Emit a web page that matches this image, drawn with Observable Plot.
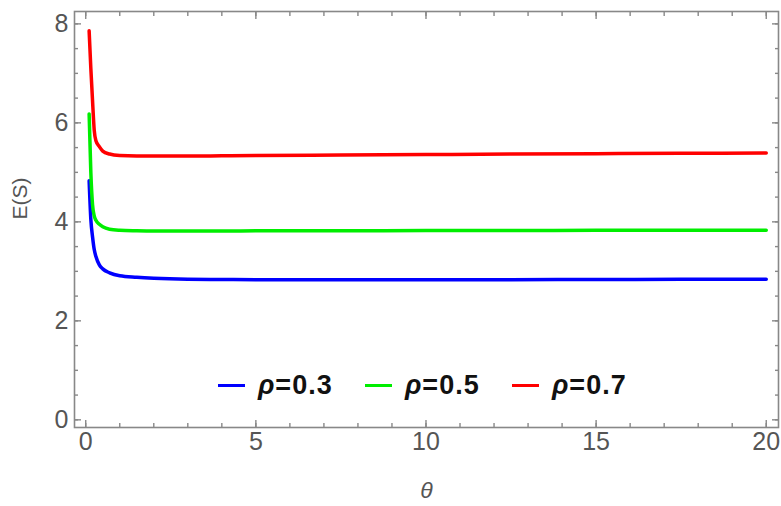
<!DOCTYPE html>
<html>
<head>
<meta charset="utf-8">
<script src="https://cdn.jsdelivr.net/npm/d3@7"></script>
<script src="https://cdn.jsdelivr.net/npm/@observablehq/plot@0.6"></script>
<style>
  html, body { margin: 0; padding: 0; background: #fff; }
  #wrap { position: relative; width: 781px; height: 506px; }
  #legend { position: absolute; left: 218px; top: 370px; display: flex; align-items: center;
            font-family: "Liberation Sans", Arial, sans-serif; font-weight: bold; font-size: 27px;
            letter-spacing: 1px; color: #111; }
  #legend .item { display: flex; align-items: center; width: 147px; }
  #legend .sw { width: 27px; height: 3px; margin-right: 13px; }
  #legend i { font-style: italic; }
</style>
</head>
<body>
<div id="wrap"><div id="legend"></div></div>
<script>
// θ sample points
const theta = [0.1, 0.15, 0.2, 0.25, 0.3, 0.4, 0.5, 0.7, 1.0, 1.5, 2, 3, 4, 5, 7.5, 10, 12.5, 15, 17.5, 20];
// E(S) for each ρ
const es03 = [4.83, 4.05, 3.70, 3.44, 3.30, 3.13, 3.05, 2.97, 2.91, 2.88, 2.86, 2.84, 2.835, 2.83, 2.83, 2.83, 2.832, 2.835, 2.838, 2.84];
const es05 = [6.18, 5.00, 4.35, 4.12, 4.03, 3.95, 3.90, 3.85, 3.83, 3.82, 3.815, 3.815, 3.815, 3.818, 3.82, 3.823, 3.825, 3.828, 3.83, 3.832];
const es07 = [7.86, 7.10, 6.45, 5.85, 5.64, 5.52, 5.43, 5.37, 5.34, 5.33, 5.33, 5.33, 5.335, 5.34, 5.35, 5.36, 5.37, 5.378, 5.385, 5.39];
const seriesNames = ["ρ=0.3", "ρ=0.5", "ρ=0.7"];
const seriesColors = ["#0000ff", "#00ee00", "#ff0000"];
const xMajor = [0, 5, 10, 15, 20];
const xMinor = d3.range(0, 21, 1);
const yMajor = [0, 2, 4, 6, 8];
const yMinor = d3.range(0, 8.01, 0.5);

const rows = [es03, es05, es07].flatMap((vals, i) =>
  theta.map((t, j) => ({theta: t, es: vals[j], series: seriesNames[i]})));

const tickColor = "#888";
const labelColor = "#555";
const font = "'Liberation Sans', Arial, sans-serif";

const chart = Plot.plot({
  width: 781,
  height: 506,
  marginLeft: 74,
  marginRight: 3,
  marginTop: 11,
  marginBottom: 79,
  style: {fontFamily: font, background: "white", overflow: "visible"},
  x: {domain: [-0.33, 20.36]},
  y: {domain: [-0.155, 8.25]},
  color: {domain: seriesNames, range: seriesColors},
  marks: [
    Plot.frame({stroke: tickColor, strokeWidth: 1.6}),
    Plot.axisX(xMajor, {anchor: "bottom", tickSize: -7, text: null, label: null, stroke: tickColor, strokeWidth: 1.4}),
    Plot.axisX(xMinor, {anchor: "bottom", tickSize: -4, text: null, label: null, stroke: tickColor, strokeWidth: 1.4}),
    Plot.axisX(xMajor, {anchor: "top", tickSize: -7, text: null, label: null, stroke: tickColor, strokeWidth: 1.4}),
    Plot.axisX(xMinor, {anchor: "top", tickSize: -4, text: null, label: null, stroke: tickColor, strokeWidth: 1.4}),
    Plot.axisY(yMajor, {anchor: "left", tickSize: -7, text: null, label: null, stroke: tickColor, strokeWidth: 1.4}),
    Plot.axisY(yMinor, {anchor: "left", tickSize: -4, text: null, label: null, stroke: tickColor, strokeWidth: 1.4}),
    Plot.axisY(yMajor, {anchor: "right", tickSize: -7, text: null, label: null, stroke: tickColor, strokeWidth: 1.4}),
    Plot.axisY(yMinor, {anchor: "right", tickSize: -4, text: null, label: null, stroke: tickColor, strokeWidth: 1.4}),
    Plot.axisX(xMajor, {anchor: "bottom", tickSize: 0, tickPadding: 5, label: null, fontSize: 25, fill: labelColor, tickFormat: d => String(d)}),
    Plot.axisY(yMajor, {anchor: "left", tickSize: 0, tickPadding: 6, label: null, fontSize: 25, fill: labelColor, tickFormat: d => String(d)}),
    Plot.text(["E(S)"], {text: d => d, frameAnchor: "left", dx: -54, rotate: -90, fontSize: 21, fill: labelColor}),
    Plot.text(["θ"], {text: d => d, frameAnchor: "bottom", dy: 70, fontSize: 23, fontStyle: "italic", fill: labelColor}),
    Plot.line(rows, {x: "theta", y: "es", z: "series", stroke: "series", strokeWidth: 3.5, curve: "monotone-x"})
  ]
});
document.getElementById("wrap").prepend(chart);

const legend = document.getElementById("legend");
seriesNames.forEach((name, i) => {
  const item = document.createElement("div");
  item.className = "item";
  const sw = document.createElement("div");
  sw.className = "sw";
  sw.style.background = seriesColors[i];
  const lab = document.createElement("span");
  lab.innerHTML = "<i>" + name.slice(0, 1) + "</i>" + name.slice(1);
  item.append(sw, lab);
  legend.append(item);
});
</script>
</body>
</html>
